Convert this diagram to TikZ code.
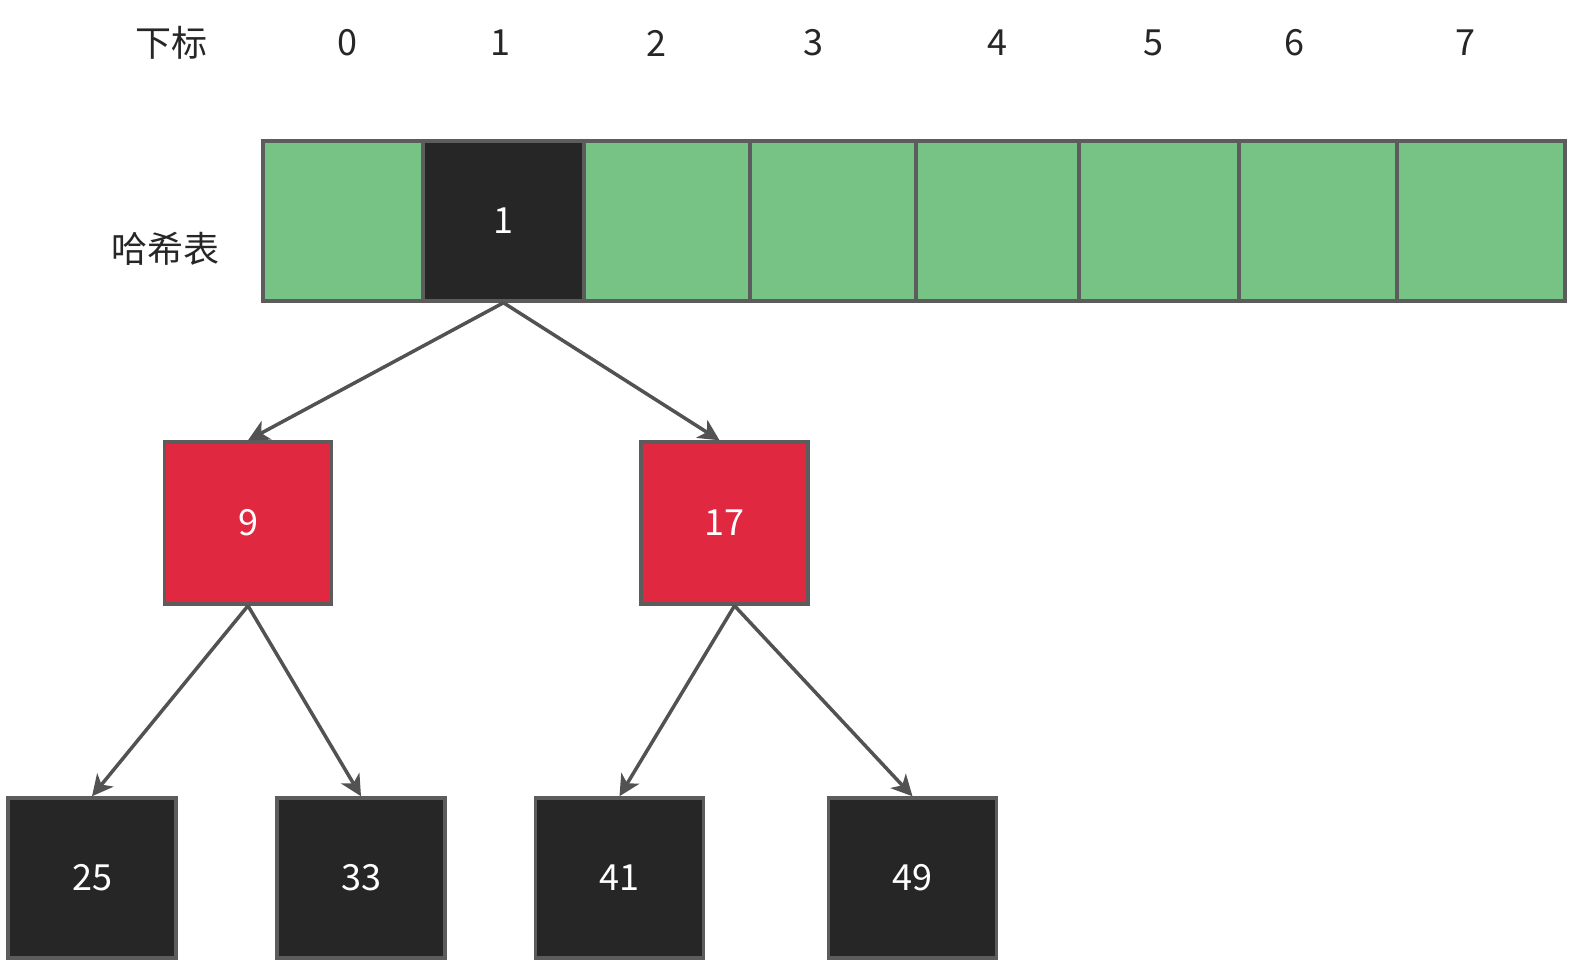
\documentclass[tikz,border=0pt]{standalone}
\usepackage{fontspec}
\setmainfont{Noto Sans CJK SC}
\usetikzlibrary{arrows.meta}
\definecolor{cellgreen}{RGB}{119,195,134}
\definecolor{cellred}{RGB}{224,41,64}
\definecolor{celldark}{RGB}{38,38,38}
\definecolor{edgegray}{RGB}{92,92,92}
\definecolor{arrowgray}{RGB}{82,82,82}
\begin{document}
\begin{tikzpicture}[x=0.5pt,y=-0.5pt,
  box/.style={draw=edgegray,line width=1.75pt,inner sep=0pt,minimum height=80pt,font=\fontsize{18}{20}\selectfont},
  gcell/.style={box,fill=cellgreen},
  dcell/.style={box,fill=celldark,text=white},
  rcell/.style={box,fill=cellred,text=white,minimum height=81pt,minimum width=83.5pt},
  bcell/.style={box,fill=celldark,text=white,minimum width=84pt},
  lbl/.style={font=\fontsize{18}{20}\selectfont,text=black!85,inner sep=0pt},
  link/.style={draw=arrowgray,line width=1.75pt,-{Stealth[length=10.5pt,width=10.5pt,inset=3pt]}}]
\useasboundingbox (0,0) rectangle (1576,965);
% top labels
\node[lbl] (hd) at (171,43) {下标};
\node[lbl] (i0) at (347,43) {0};
\node[lbl] (i1) at (500,43) {1};
\node[lbl] (i2) at (656,43) {2};
\node[lbl] (i3) at (813,43) {3};
\node[lbl] (i4) at (997,43) {4};
\node[lbl] (i5) at (1153,43) {5};
\node[lbl] (i6) at (1294,43) {6};
\node[lbl] (i7) at (1465,43) {7};
\node[lbl] (ht) at (166,249) {哈希表};
% table cells
\node[gcell,minimum width=80pt] (c0) at (343,221) {};
\node[gcell,minimum width=83pt] (c2) at (667,221) {};
\node[gcell,minimum width=83pt] (c3) at (833,221) {};
\node[gcell,minimum width=81.5pt] (c4) at (997.5,221) {};
\node[gcell,minimum width=80pt] (c5) at (1159,221) {};
\node[gcell,minimum width=79pt] (c6) at (1318,221) {};
\node[gcell,minimum width=84pt] (c7) at (1481,221) {};
\node[dcell,minimum width=80.5pt] (c1) at (503.5,221) {1};
% tree nodes
\node[rcell] (n9) at (248,523) {9};
\node[rcell] (n17) at (724.5,523) {17};
\node[bcell] (n25) at (92,878) {25};
\node[bcell] (n33) at (361,878) {33};
\node[bcell] (n41) at (619.5,878) {41};
\node[bcell] (n49) at (912.5,878) {49};
% connectors
\draw[link] (c1.south) -- (n9.north);
\draw[link] (c1.south) -- ([xshift=-2.5pt]n17.north);
\draw[link] (n9.south) -- (n25.north);
\draw[link] (n9.south) -- (n33.north);
\draw[link] ([xshift=5pt]n17.south) -- (n41.north);
\draw[link] ([xshift=5pt]n17.south) -- (n49.north);
\end{tikzpicture}
\end{document}
